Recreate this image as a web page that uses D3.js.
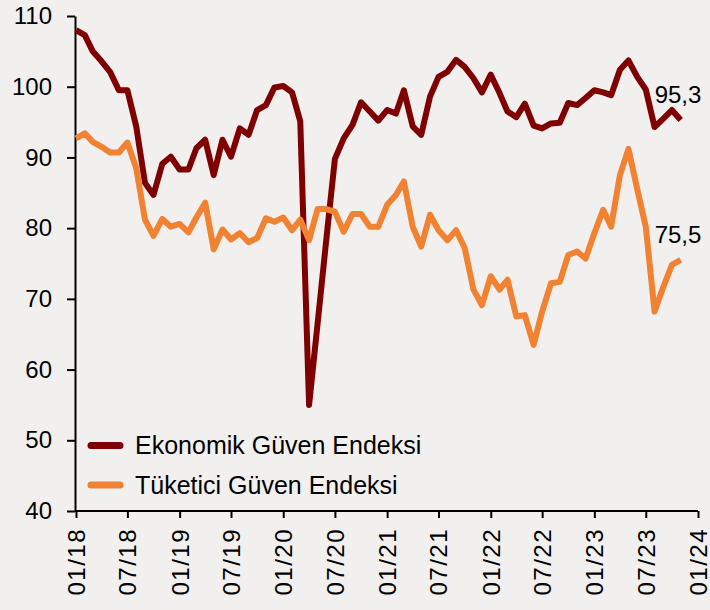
<!DOCTYPE html>
<html>
<head>
<meta charset="utf-8">
<script src="https://cdn.jsdelivr.net/npm/d3@7"></script>
<style>
  body { margin: 0; background: #f2f0ef; }
  svg { display: block; }
  text { font-family: "Liberation Sans", Arial, sans-serif; fill: #000; }
</style>
</head>
<body>
<svg width="710" height="610"></svg>
<script>
// monthly, 01/2018 .. 11/2023
const startMonth = new Date(2018, 0, 1)
const ekonomik = [
  108.0, 107.3, 105.0, 103.6, 102.1, 99.5, 99.5, 94.4, 86.4, 84.7, 89.1, 90.1,
  88.3, 88.3, 91.3, 92.5, 87.5, 92.5, 90.1, 94.1, 93.2, 96.7, 97.4, 99.9,
  100.1, 99.2, 95.1, 55.0, 66.5, 78.5, 89.8, 92.7, 94.6, 97.8, 96.5, 95.2,
  96.7, 96.2, 99.5, 94.4, 93.2, 98.6, 101.4, 102.1, 103.8, 102.8, 101.2, 99.2,
  101.7, 99.1, 96.5, 95.7, 97.6, 94.5, 94.1, 94.8, 94.9, 97.7, 97.4, 98.4,
  99.5, 99.2, 98.8, 102.4, 103.7, 101.4, 99.6, 94.3, 95.5, 96.7, 95.3
]
const tuketici = [
  92.7, 93.4, 92.2, 91.5, 90.7, 90.7, 92.1, 88.5, 81.2, 78.9, 81.3, 80.2,
  80.6, 79.4, 81.5, 83.6, 77.0, 79.8, 78.4, 79.3, 78.0, 78.6, 81.4, 80.9,
  81.5, 79.7, 81.2, 78.3, 82.7, 82.7, 82.3, 79.5, 82.0, 82.0, 80.2, 80.2,
  83.3, 84.7, 86.6, 80.2, 77.4, 81.9, 79.7, 78.3, 79.7, 77.2, 71.3, 69.1,
  73.2, 71.3, 72.7, 67.5, 67.7, 63.5, 68.2, 72.2, 72.4, 76.2, 76.7, 75.7,
  79.3, 82.6, 80.2, 87.5, 91.2, 85.5, 80.2, 68.2, 71.7, 74.8, 75.5
]
const seriesNames = ["Ekonomik Güven Endeksi", "Tüketici Güven Endeksi"]
const seriesColors = ["#7f0000", "#f08232"]
const lastLabels = ["95,3", "75,5"]
const yTicks = [40, 50, 60, 70, 80, 90, 100, 110]

const svg = d3.select('svg')

const x = d3.scaleTime()
  .domain([new Date(2018, 0, 1), new Date(2024, 0, 1)])
  .range([76, 698])
const y = d3.scaleLinear()
  .domain([40, 110])
  .range([511, 16])

const dateOf = i => d3.timeMonth.offset(startMonth, i)

// y axis
const yAxis = svg.append('g')
  .attr('transform', 'translate(75,0)')
  .call(d3.axisLeft(y).tickValues(yTicks).tickSize(8).tickPadding(15).tickSizeOuter(0))
yAxis.select('.domain').attr('stroke', '#000').attr('stroke-width', 2)
yAxis.selectAll('.tick line').attr('stroke', '#000').attr('stroke-width', 2)
yAxis.selectAll('.tick text')
  .style('font-size', '24px')

// x axis
const xAxis = svg.append('g')
  .attr('transform', 'translate(0,511)')
  .call(d3.axisBottom(x)
    .ticks(d3.timeMonth.every(6))
    .tickFormat(d3.timeFormat('%m/%y'))
    .tickSize(7)
    .tickSizeOuter(0))
xAxis.select('.domain').attr('stroke', '#000').attr('stroke-width', 2)
  .attr('d', 'M75,0H698')
xAxis.selectAll('.tick line').attr('stroke', '#000').attr('stroke-width', 2)
xAxis.selectAll('.tick text')
  .style('font-size', '24px')
  .style('letter-spacing', '1.5px')
  .attr('text-anchor', 'end')
  .attr('dy', '0.35em')
  .attr('transform', 'translate(0,17) rotate(-90)')
  .attr('x', 0)
  .attr('y', 0)

// lines
const line = d3.line()
  .x((d, i) => x(dateOf(i)))
  .y(d => y(d))

const allSeries = [ekonomik, tuketici]
allSeries.forEach((s, k) => {
  svg.append('path')
    .datum(s)
    .attr('fill', 'none')
    .attr('stroke', seriesColors[k])
    .attr('stroke-width', 6)
    .attr('stroke-linejoin', 'round')
    .attr('d', line)
})

// end labels
allSeries.forEach((s, k) => {
  const last = s.length - 1
  svg.append('text')
    .attr('x', x(dateOf(last)) - 26)
    .attr('y', y(s[last]) - 17)
    .style('font-size', '24px')
    .text(lastLabels[k])
})

// legend
const legend = svg.append('g')
  .attr('transform', 'translate(91,445.5)')
seriesNames.forEach((name, k) => {
  const g = legend.append('g').attr('transform', `translate(0,${k * 39.5})`)
  g.append('line')
    .attr('x1', 0).attr('x2', 29)
    .attr('stroke', seriesColors[k])
    .attr('stroke-width', 7)
    .attr('stroke-linecap', 'round')
  g.append('text')
    .attr('x', 44)
    .attr('dy', '0.35em')
    .style('font-size', '25px')
    .text(name)
})
</script>
</body>
</html>
